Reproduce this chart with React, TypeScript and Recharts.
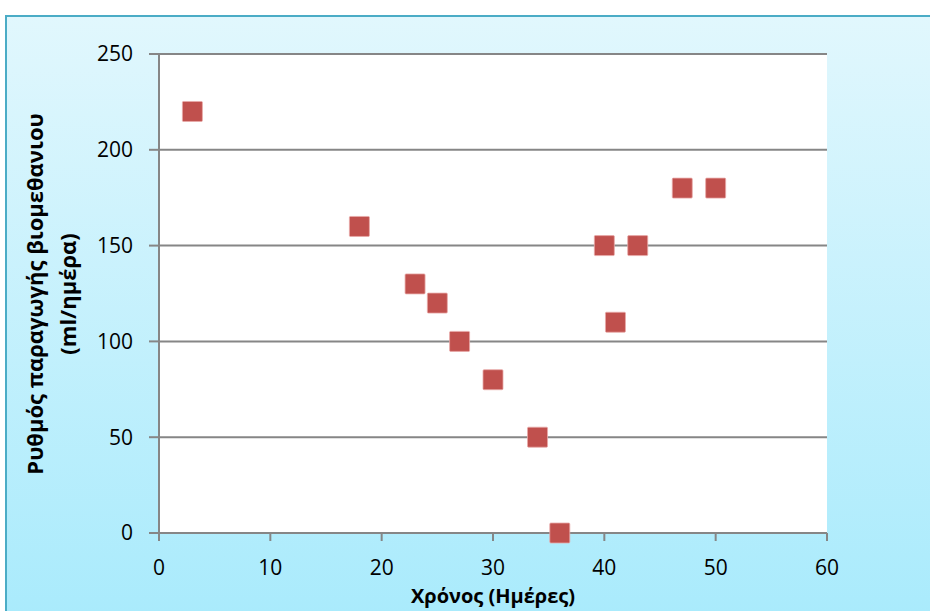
import React from "react";
import {
  ScatterChart,
  Scatter,
  XAxis,
  YAxis,
  CartesianGrid,
} from "recharts";

const days = [3, 18, 23, 25, 27, 30, 34, 36, 40, 41, 43, 47, 50];
const rates = [220, 160, 130, 120, 100, 80, 50, 0, 150, 110, 150, 180, 180];
const xTicks = [0, 10, 20, 30, 40, 50, 60];
const yTicks = [0, 50, 100, 150, 200, 250];
const xTitle = "Χρόνος (Ημέρες)";
const yTitleLines = ["Ρυθμός παραγωγής βιομεθανιου", "(ml/ημέρα)"];

const data = days.map((d, i) => ({ x: d, y: rates[i] }));

const FONT = "'Open Sans', 'Noto Sans', sans-serif";
const AXIS = "#868686";

const Square = (props: any) => {
  const { cx, cy } = props;
  if (cx == null || cy == null) return null;
  return (
    <rect
      x={cx - 10}
      y={cy - 10}
      width={20}
      height={20}
      rx={1}
      fill="#c0504d"
      stroke="#e8a9a8"
      strokeWidth={0.8}
    />
  );
};

export default function App() {
  return (
    <div
      style={{
        position: "absolute",
        left: 0,
        top: 0,
        width: 930,
        height: 611,
        overflow: "hidden",
        background: "#fff",
      }}
    >
      <div
        style={{
          position: "absolute",
          left: 5,
          top: 15,
          width: 960,
          height: 640,
          boxSizing: "border-box",
          border: "2px solid #4bacc6",
          background: "linear-gradient(to bottom, #e1f7fd 0%, #a6eafc 100%)",
        }}
      />
      <div style={{ position: "absolute", left: 0, top: 0 }}>
        <ScatterChart
          width={930}
          height={611}
          margin={{ top: 54, right: 103, bottom: 0, left: 0 }}
        >
          <CartesianGrid
            horizontal={true}
            vertical={false}
            stroke={AXIS}
            strokeWidth={2}
            fill="#ffffff"
            fillOpacity={1}
          />
          <XAxis
            type="number"
            dataKey="x"
            domain={[0, 60]}
            ticks={xTicks}
            interval={0}
            height={78}
            axisLine={{ stroke: AXIS, strokeWidth: 2 }}
            tickLine={{ stroke: AXIS, strokeWidth: 2 }}
            tickSize={8}
            tickMargin={19}
            tick={{ fill: "#000", fontSize: 21, fontFamily: FONT }}
            label={(p: any) => (
              <text
                x={493}
                y={603}
                textAnchor="middle"
                fontFamily={FONT}
                fontWeight="bold"
                fontSize={20}
                fill="#000"
              >
                {xTitle}
              </text>
            )}
          />
          <YAxis
            type="number"
            dataKey="y"
            domain={[0, 250]}
            ticks={yTicks}
            interval={0}
            width={159}
            axisLine={{ stroke: AXIS, strokeWidth: 2 }}
            tickLine={{ stroke: AXIS, strokeWidth: 2 }}
            tickSize={10}
            tickMargin={16}
            tick={{ fill: "#000", fontSize: 21, fontFamily: FONT }}
            label={(p: any) => (
              <text
                transform="translate(43,294) rotate(-90)"
                textAnchor="middle"
                fontFamily={FONT}
                fontWeight="bold"
                fontSize={22}
                fill="#000"
              >
                <tspan x={0} dy={0}>
                  {yTitleLines[0]}
                </tspan>
                <tspan x={0} dy={33}>
                  {yTitleLines[1]}
                </tspan>
              </text>
            )}
          />
          <Scatter
            data={data}
            isAnimationActive={false}
            shape={Square}
          />
        </ScatterChart>
      </div>
    </div>
  );
}
